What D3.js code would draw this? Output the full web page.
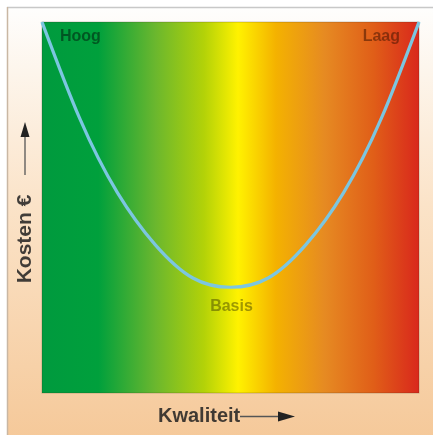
<!DOCTYPE html>
<html>
<head>
<meta charset="utf-8">
<script src="https://cdn.jsdelivr.net/npm/d3@7"></script>
<style>
  body { margin: 0; background: #fff; }
  svg { display: block; font-family: "Liberation Sans", Arial, sans-serif; }
</style>
</head>
<body>
<svg id="chart" width="433" height="435"></svg>
<script>
// quality vs cost
var kwaliteit = [0, 1, 2, 3, 4, 5, 6, 7, 8, 9, 10];
var kosten    = [100, 74, 54, 40, 31, 28.5, 31, 40, 54, 74, 100];

// colour bands along the quality axis
var bandStops = [0, 0.15, 0.3, 0.43, 0.52, 0.62, 0.75, 0.88, 1];
var bandColors = ["#009a3e", "#00a03c", "#6ab72e", "#b3d208", "#fff200", "#f4b200", "#e68a22", "#e05e18", "#d9281c"];

var labels = { top: ["Hoog", "Laag"], mid: "Basis", y: "Kosten €", x: "Kwaliteit" };

var svg = d3.select("#chart");
var defs = svg.append("defs");

var bg = defs.append("linearGradient").attr("id", "bg")
    .attr("x1", 0).attr("y1", 0).attr("x2", 0).attr("y2", 1);
bg.append("stop").attr("offset", 0).attr("stop-color", "#fefefd");
bg.append("stop").attr("offset", 0.45).attr("stop-color", "#fbe3c8");
bg.append("stop").attr("offset", 1).attr("stop-color", "#f5c898");

var band = defs.append("linearGradient").attr("id", "band")
    .attr("x1", 0).attr("y1", 0).attr("x2", 1).attr("y2", 0);
bandStops.forEach(function(s, i){
    band.append("stop").attr("offset", s).attr("stop-color", bandColors[i]);
});

defs.append("filter").attr("id", "soft")
    .append("feGaussianBlur").attr("stdDeviation", 0.5);
defs.append("filter").attr("id", "softer")
    .append("feGaussianBlur").attr("stdDeviation", 0.7);

// frame
svg.append("rect").attr("x", 7).attr("y", 7).attr("width", 440).attr("height", 440)
    .attr("fill", "url(#bg)");
svg.append("line").attr("x1", 7).attr("x2", 433).attr("y1", 7.5).attr("y2", 7.5)
    .attr("stroke", "#c8c8c8").attr("stroke-width", 1.5);
svg.append("line").attr("x1", 7.5).attr("x2", 7.5).attr("y1", 7).attr("y2", 435)
    .attr("stroke", "#c9b7a3").attr("stroke-width", 1.5);

var margin = {top: 22, left: 42, right: 14, bottom: 42};
var width = 433 - margin.left - margin.right,
    height = 435 - margin.top - margin.bottom;

var x = d3.scaleLinear().domain(d3.extent(kwaliteit)).range([margin.left, margin.left + width]);
var y = d3.scaleLinear().domain([0, 100]).range([margin.top + height, margin.top]);

svg.append("rect")
    .attr("x", x(0)).attr("y", y(100))
    .attr("width", x(10) - x(0)).attr("height", y(0) - y(100))
    .attr("fill", "url(#band)")
    .attr("stroke", "rgba(60,40,20,0.25)").attr("stroke-width", 1);

var line = d3.line()
    .x(function(d, i){ return x(kwaliteit[i]); })
    .y(function(d){ return y(d); })
    .curve(d3.curveNatural);

svg.append("path")
    .datum(kosten)
    .attr("d", line)
    .attr("fill", "none")
    .attr("stroke", "#7cc6e0")
    .attr("stroke-width", 3.2)
    .attr("filter", "url(#soft)");

var txt = svg.append("g").attr("filter", "url(#softer)");

txt.append("text").attr("x", 60).attr("y", 41)
    .attr("font-size", 16).attr("font-weight", "bold")
    .attr("fill", "rgba(10,40,15,0.6)").text(labels.top[0]);
txt.append("text").attr("x", 400).attr("y", 41).attr("text-anchor", "end")
    .attr("font-size", 16).attr("font-weight", "bold")
    .attr("fill", "rgba(70,20,10,0.55)").text(labels.top[1]);
txt.append("text").attr("x", x(5) + 1).attr("y", 311).attr("text-anchor", "middle")
    .attr("font-size", 16).attr("font-weight", "bold")
    .attr("fill", "rgba(70,70,0,0.5)").text(labels.mid);

// y axis title with arrow
txt.append("text")
    .attr("transform", "translate(31,239) rotate(-90)")
    .attr("text-anchor", "middle")
    .attr("font-size", 21).attr("font-weight", "bold")
    .attr("fill", "rgba(30,30,30,0.85)").text(labels.y);
txt.append("line").attr("x1", 25).attr("x2", 25).attr("y1", 175).attr("y2", 134)
    .attr("stroke", "#555").attr("stroke-width", 1.3);
txt.append("path").attr("d", "M25,122 L20.5,137 L29.5,137 Z").attr("fill", "#222");

// x axis title with arrow
txt.append("text").attr("x", 158).attr("y", 422)
    .attr("font-size", 20).attr("font-weight", "bold")
    .attr("fill", "rgba(30,30,30,0.85)").text(labels.x);
txt.append("line").attr("x1", 240).attr("x2", 280).attr("y1", 416.5).attr("y2", 416.5)
    .attr("stroke", "#555").attr("stroke-width", 1.3);
txt.append("path").attr("d", "M295,416.5 L278,411.5 L278,421.5 Z").attr("fill", "#222");
</script>
</body>
</html>
